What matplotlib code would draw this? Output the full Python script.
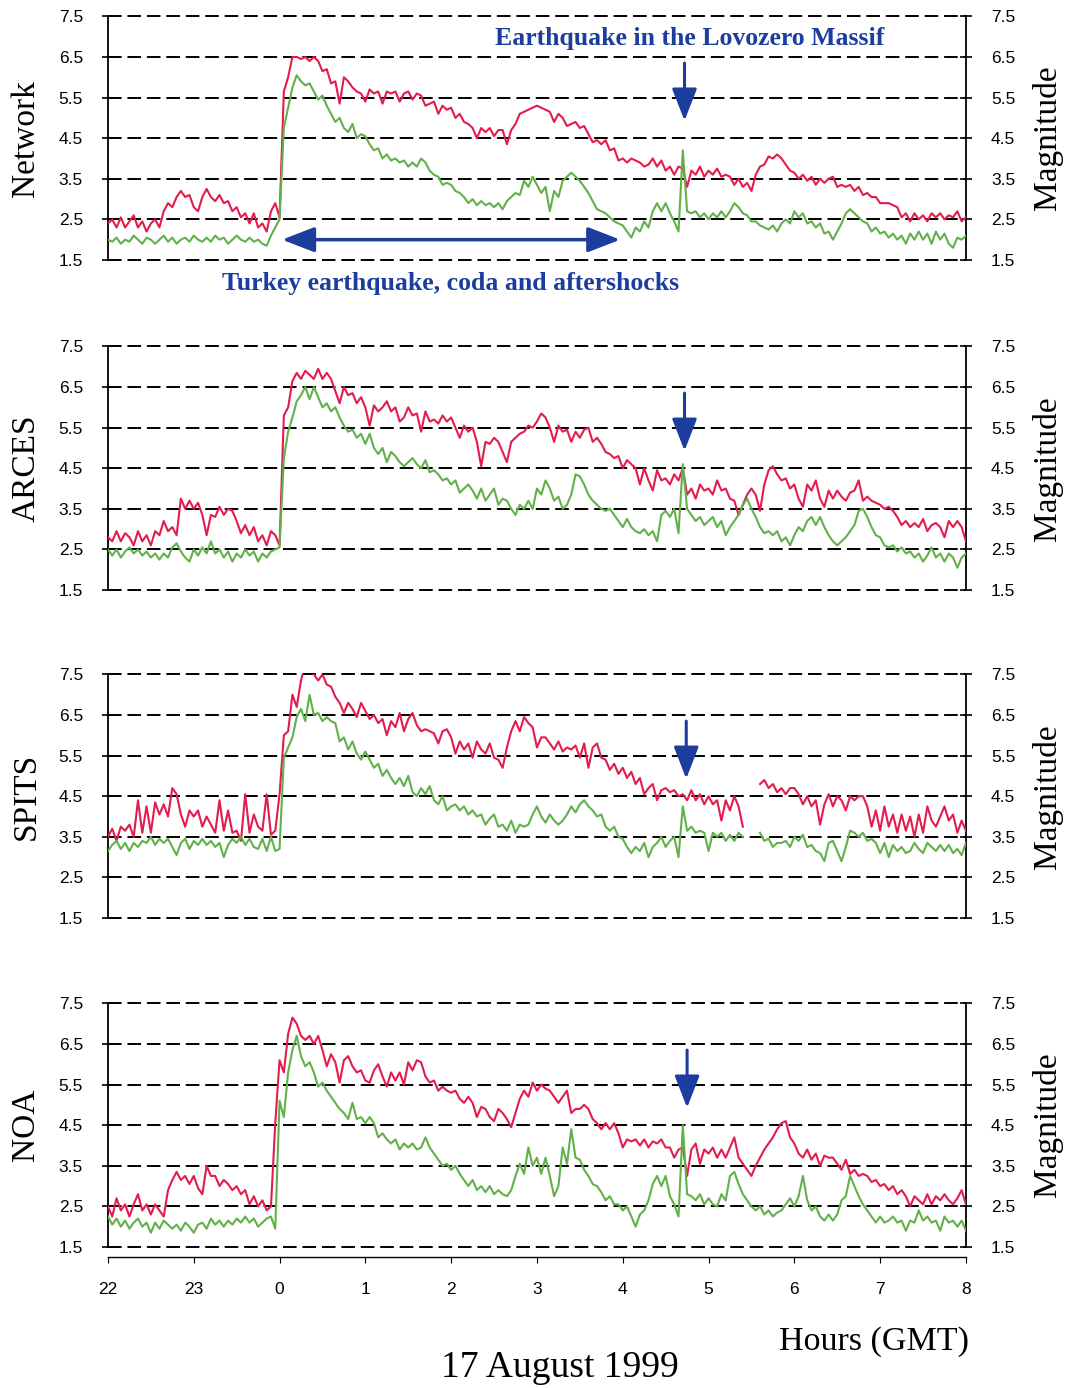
import numpy as np
import matplotlib
matplotlib.use("Agg")
import matplotlib.pyplot as plt

# time axis: hours relative to midnight, 22:00 on 16 Aug -> 08:00 on 17 Aug
hours = np.linspace(-2, 8, 201)
hour_ticks = list(range(-2, 9))
hour_labels = ['22', '23', '0', '1', '2', '3', '4', '5', '6', '7', '8']
mag_ticks = [1.5, 2.5, 3.5, 4.5, 5.5, 6.5, 7.5]

stations = ['Network', 'ARCES', 'SPITS', 'NOA']
nan = np.nan

net_red = [
    2.4, 2.5, 2.3, 2.55, 2.3, 2.45, 2.6, 2.3, 2.45, 2.2,
    2.4, 2.5, 2.3, 2.7, 2.9, 2.8, 3.05, 3.2, 3.05, 3.1,
    2.8, 2.7, 3.05, 3.25, 3.05, 2.95, 3.1, 2.9, 2.95, 2.7,
    2.8, 2.55, 2.65, 2.4, 2.65, 2.3, 2.4, 2.2, 2.7, 2.9,
    2.55, 5.65, 6.0, 6.5, 6.5, 6.45, 6.5, 6.4, 6.5, 6.4,
    6.15, 6.2, 5.85, 5.9, 5.35, 6.0, 5.9, 5.75, 5.65, 5.6,
    5.4, 5.7, 5.6, 5.65, 5.35, 5.65, 5.6, 5.65, 5.4, 5.6,
    5.65, 5.45, 5.6, 5.55, 5.3, 5.35, 5.4, 5.1, 5.3, 5.2,
    5.25, 5.0, 5.1, 4.9, 4.85, 4.75, 4.5, 4.75, 4.65, 4.75,
    4.55, 4.7, 4.7, 4.35, 4.7, 4.85, 5.1, 5.15, 5.2, 5.25,
    5.3, 5.25, 5.2, 5.15, 4.9, 5.1, 5.0, 4.8, 4.85, 4.9,
    4.75, 4.8, 4.6, 4.4, 4.45, 4.35, 4.45, 4.2, 4.25, 3.95,
    4.0, 3.9, 4.0, 3.95, 3.9, 3.8, 3.85, 4.0, 3.8, 3.95,
    3.7, 3.8, 3.6, 3.8, 3.75, 3.3, 3.7, 3.6, 3.8, 3.55,
    3.7, 3.6, 3.75, 3.55, 3.6, 3.55, 3.35, 3.5, 3.3, 3.4,
    3.2, 3.6, 3.8, 3.85, 4.05, 4.0, 4.1, 4.0, 3.85, 3.7,
    3.65, 3.5, 3.6, 3.45, 3.55, 3.35, 3.5, 3.4, 3.5, 3.55,
    3.3, 3.35, 3.3, 3.35, 3.2, 3.3, 3.1, 3.15, 3.05, 3.05,
    2.9, 2.9, 2.9, 2.85, 2.8, 2.55, 2.65, 2.45, 2.65, 2.5,
    2.6, 2.45, 2.65, 2.55, 2.65, 2.5, 2.6, 2.55, 2.7, 2.45,
    2.55]

net_green = [
    2.0, 1.95, 2.05, 1.9, 2.0, 1.95, 2.1, 2.0, 1.9, 2.05,
    2.0, 1.9, 2.0, 2.1, 1.95, 2.05, 1.9, 2.0, 2.05, 1.95,
    2.1, 2.0, 1.95, 2.05, 1.95, 2.1, 2.0, 2.05, 1.9, 2.0,
    2.1, 2.0, 1.95, 2.05, 1.95, 2.0, 1.9, 1.85, 2.1, 2.3,
    2.5, 4.75, 5.25, 5.75, 6.05, 5.9, 5.8, 5.85, 5.65, 5.45,
    5.55, 5.3, 5.1, 4.9, 5.0, 4.75, 4.65, 4.85, 4.5, 4.6,
    4.55, 4.35, 4.2, 4.25, 4.0, 4.1, 3.95, 4.0, 3.9, 3.95,
    3.8, 3.9, 3.8, 4.0, 3.9, 3.7, 3.6, 3.55, 3.35, 3.4,
    3.35, 3.2, 3.15, 3.05, 2.9, 3.0, 2.85, 2.95, 2.85, 2.9,
    2.8, 2.9, 2.75, 2.95, 3.05, 3.15, 3.1, 3.45, 3.3, 3.55,
    3.35, 3.15, 3.3, 2.7, 3.2, 3.05, 3.45, 3.55, 3.65, 3.55,
    3.45, 3.3, 3.15, 2.95, 2.75, 2.7, 2.65, 2.55, 2.45, 2.4,
    2.35, 2.2, 2.05, 2.3, 2.2, 2.45, 2.3, 2.7, 2.9, 2.7,
    2.9, 2.65, 2.45, 2.2, 4.2, 2.7, 2.65, 2.7, 2.55, 2.65,
    2.5, 2.65, 2.55, 2.7, 2.55, 2.7, 2.9, 2.8, 2.65, 2.6,
    2.45, 2.45, 2.35, 2.3, 2.25, 2.35, 2.2, 2.4, 2.5, 2.4,
    2.7, 2.55, 2.65, 2.4, 2.45, 2.3, 2.4, 2.15, 2.2, 2.0,
    2.2, 2.4, 2.65, 2.75, 2.65, 2.55, 2.45, 2.4, 2.2, 2.3,
    2.15, 2.2, 2.05, 2.15, 2.0, 2.1, 1.9, 2.15, 2.0, 2.2,
    2.0, 2.15, 1.9, 2.2, 2.0, 2.15, 1.9, 1.8, 2.05, 2.0,
    2.1]

arces_red = [
    2.8, 2.7, 2.95, 2.7, 2.9, 2.8, 2.6, 2.95, 2.7, 2.85,
    2.6, 2.95, 2.85, 3.2, 2.95, 3.05, 2.85, 3.75, 3.5, 3.7,
    3.5, 3.65, 3.35, 2.85, 3.35, 3.3, 3.55, 3.35, 3.5, 3.45,
    3.2, 2.9, 3.1, 2.85, 3.05, 2.7, 2.85, 2.6, 2.95, 2.85,
    2.6, 5.8, 6.0, 6.65, 6.85, 6.7, 6.9, 6.8, 6.7, 6.95,
    6.7, 6.85, 6.7, 6.4, 6.1, 6.5, 6.3, 6.35, 6.1, 6.25,
    6.0, 5.55, 6.05, 5.9, 6.0, 6.15, 5.9, 6.0, 5.65, 5.75,
    6.0, 5.8, 5.85, 5.4, 5.9, 5.65, 5.7, 5.6, 5.8, 5.65,
    5.75, 5.5, 5.25, 5.55, 5.4, 5.5, 5.15, 4.55, 5.15, 5.1,
    5.25, 5.15, 4.9, 4.65, 5.15, 5.25, 5.35, 5.4, 5.55, 5.5,
    5.65, 5.85, 5.75, 5.5, 5.15, 5.55, 5.4, 5.45, 5.15, 5.4,
    5.25, 5.45, 5.5, 5.15, 5.25, 5.1, 4.9, 4.85, 4.75, 4.8,
    4.5, 4.7, 4.6, 4.5, 4.1, 4.5, 4.2, 3.95, 4.45, 4.2,
    4.25, 4.1, 4.35, 4.2, 4.5, 3.85, 4.0, 3.75, 4.1, 3.95,
    4.0, 3.85, 4.2, 3.95, 4.0, 3.75, 3.7, 3.35, 3.6, 3.85,
    4.0, 3.85, 3.45, 4.1, 4.45, 4.55, 4.35, 4.2, 4.25, 4.0,
    4.1, 3.75, 3.55, 4.1, 3.95, 4.2, 3.75, 3.55, 3.95, 3.75,
    3.95, 3.8, 3.7, 3.9, 3.95, 4.2, 3.7, 3.8, 3.7, 3.65,
    3.6, 3.5, 3.55, 3.45, 3.3, 3.1, 3.2, 3.05, 3.15, 3.05,
    3.25, 2.95, 3.1, 3.15, 3.05, 2.8, 3.2, 3.05, 3.2, 3.05,
    2.7]

arces_green = [
    2.5, 2.35, 2.5, 2.3, 2.45, 2.55, 2.4, 2.5, 2.35, 2.45,
    2.3, 2.4, 2.25, 2.4, 2.3, 2.55, 2.65, 2.45, 2.3, 2.2,
    2.5, 2.35, 2.55, 2.4, 2.7, 2.4, 2.5, 2.3, 2.45, 2.2,
    2.4, 2.3, 2.5, 2.35, 2.45, 2.2, 2.4, 2.3, 2.45, 2.5,
    2.55, 4.75, 5.4, 5.75, 6.15, 6.3, 6.5, 6.2, 6.5, 6.25,
    6.0, 6.1, 5.9, 6.0, 5.75, 5.55, 5.4, 5.45, 5.25, 5.35,
    5.1, 5.35, 5.0, 4.85, 5.0, 4.65, 4.9, 4.8, 4.65, 4.55,
    4.65, 4.75, 4.6, 4.5, 4.7, 4.4, 4.45, 4.35, 4.2, 4.25,
    4.1, 4.2, 3.9, 4.0, 4.1, 3.95, 3.75, 4.0, 3.7, 3.85,
    4.0, 3.6, 3.75, 3.7, 3.5, 3.35, 3.6, 3.5, 3.7, 3.5,
    4.0, 3.85, 4.2, 4.0, 3.7, 3.8, 3.5, 3.6, 3.85, 4.35,
    4.3, 4.1, 3.85, 3.7, 3.6, 3.5, 3.45, 3.5, 3.35, 3.2,
    3.05, 3.25, 3.05, 2.95, 2.9, 3.0, 2.85, 2.95, 2.7, 3.35,
    3.45, 3.3, 3.5, 2.9, 4.6, 3.5, 3.35, 3.2, 3.3, 3.1,
    3.2, 3.3, 3.05, 3.2, 2.85, 3.05, 3.2, 3.35, 3.6, 3.75,
    3.5, 3.3, 3.05, 2.9, 2.95, 2.85, 2.95, 2.7, 2.8, 2.6,
    2.85, 3.05, 2.95, 3.2, 3.3, 3.1, 3.3, 3.05, 2.85, 2.7,
    2.6, 2.7, 2.8, 2.95, 3.1, 3.45, 3.5, 3.3, 3.05, 2.85,
    2.8, 2.6, 2.55, 2.6, 2.45, 2.55, 2.4, 2.45, 2.3, 2.4,
    2.2, 2.35, 2.55, 2.3, 2.4, 2.2, 2.4, 2.3, 2.05, 2.3,
    2.4]

spits_red = [
    3.5, 3.7, 3.4, 3.75, 3.65, 3.8, 3.5, 4.4, 3.6, 4.25,
    3.6, 4.35, 4.05, 4.3, 4.0, 4.7, 4.55, 4.05, 3.75, 4.15,
    4.0, 4.15, 3.75, 4.0, 3.8, 3.6, 4.4, 3.65, 4.15, 3.6,
    3.65, 3.4, 4.55, 3.6, 4.05, 3.75, 3.65, 4.55, 3.55, 3.65,
    4.55, 6.0, 6.1, 7.0, 6.7, 7.35, 7.75, 7.6, 7.5, 7.35,
    7.5, 7.25, 7.2, 6.95, 6.8, 6.55, 6.8, 6.65, 6.45, 6.8,
    6.6, 6.4, 6.5, 6.3, 6.4, 6.0, 6.35, 6.2, 6.55, 6.1,
    6.4, 6.55, 6.25, 6.1, 6.15, 6.1, 6.05, 5.8, 6.1, 6.15,
    5.95, 5.55, 5.85, 5.65, 5.8, 5.45, 5.85, 5.65, 5.55, 5.8,
    5.45, 5.4, 5.2, 5.7, 6.1, 6.35, 6.1, 6.45, 6.3, 6.2,
    5.7, 5.95, 5.95, 5.8, 5.65, 5.85, 5.6, 5.7, 5.65, 5.75,
    5.45, 5.8, 5.2, 5.7, 5.8, 5.45, 5.4, 5.15, 5.3, 5.05,
    5.2, 4.95, 5.1, 4.8, 4.95, 4.55, 4.7, 4.8, 4.4, 4.65,
    4.7, 4.6, 4.65, 4.5, 4.55, 4.4, 4.65, 4.4, 4.55, 4.3,
    4.5, 4.3, 4.4, 3.9, 4.4, 4.15, 4.5, 4.25, 3.75, nan,
    nan, nan, 4.8, 4.9, 4.7, 4.8, 4.6, 4.7, 4.55, 4.7,
    4.7, 4.55, 4.3, 4.5, 4.25, 4.4, 3.8, 4.3, 4.55, 4.25,
    4.5, 4.4, 4.15, 4.5, 4.4, 4.5, 4.5, 4.25, 3.75, 4.15,
    3.65, 4.25, 3.75, 4.05, 3.6, 4.05, 3.65, 4.0, 3.5, 4.05,
    3.6, 4.25, 3.9, 3.75, 4.0, 4.25, 3.9, 4.05, 3.6, 3.9,
    3.65]

spits_green = [
    3.15, 3.3, 3.4, 3.2, 3.35, 3.15, 3.35, 3.25, 3.4, 3.35,
    3.5, 3.3, 3.45, 3.35, 3.45, 3.25, 3.05, 3.35, 3.45, 3.2,
    3.4, 3.3, 3.45, 3.3, 3.4, 3.25, 3.35, 3.0, 3.3, 3.45,
    3.35, 3.5, 3.3, 3.45, 3.25, 3.2, 3.45, 3.15, 3.5, 3.15,
    3.2, 5.45, 5.7, 5.95, 6.45, 6.65, 6.35, 7.0, 6.5, 6.55,
    6.35, 6.45, 6.35, 6.3, 5.85, 5.95, 5.65, 5.85, 5.55, 5.4,
    5.6, 5.4, 5.2, 5.3, 5.0, 5.15, 4.95, 4.8, 4.95, 4.75,
    5.0, 4.6, 4.5, 4.7, 4.55, 4.75, 4.4, 4.3, 4.5, 4.15,
    4.25, 4.3, 4.15, 4.25, 4.05, 4.15, 4.0, 4.05, 3.8, 3.95,
    4.05, 3.75, 3.8, 3.65, 3.9, 3.6, 3.8, 3.75, 3.8, 4.05,
    4.25, 4.0, 3.85, 4.05, 3.9, 3.8, 3.9, 4.05, 4.25, 4.1,
    4.3, 4.4, 4.25, 4.15, 4.0, 4.05, 3.75, 3.65, 3.75, 3.5,
    3.45, 3.25, 3.1, 3.25, 3.15, 3.35, 3.0, 3.25, 3.35, 3.5,
    3.25, 3.4, 3.5, 3.0, 4.25, 3.65, 3.75, 3.6, 3.65, 3.6,
    3.15, 3.6, 3.5, 3.6, 3.4, 3.55, 3.4, 3.6, 3.5, nan,
    nan, nan, 3.6, 3.4, 3.45, 3.25, 3.35, 3.35, 3.4, 3.25,
    3.5, 3.4, 3.55, 3.25, 3.3, 3.15, 3.1, 2.9, 3.35, 3.4,
    3.15, 2.9, 3.25, 3.65, 3.6, 3.5, 3.6, 3.4, 3.45, 3.35,
    3.1, 3.35, 3.0, 3.3, 3.15, 3.25, 3.1, 3.15, 3.35, 3.2,
    3.1, 3.35, 3.25, 3.15, 3.3, 3.15, 3.3, 3.1, 3.2, 3.05,
    3.35]

noa_red = [
    2.5, 2.25, 2.7, 2.4, 2.55, 2.25, 2.55, 2.8, 2.4, 2.55,
    2.3, 2.55, 2.4, 2.25, 2.9, 3.15, 3.35, 3.15, 3.25, 3.05,
    3.25, 2.95, 2.8, 3.5, 3.25, 3.25, 3.0, 3.15, 3.05, 2.9,
    3.0, 2.8, 2.9, 2.55, 2.75, 2.5, 2.65, 2.4, 2.5, 4.55,
    6.1, 5.8, 6.75, 7.15, 7.0, 6.7, 6.6, 6.7, 6.5, 6.7,
    6.35, 5.95, 6.25, 6.05, 5.55, 6.1, 6.2, 5.95, 5.8, 5.85,
    5.6, 5.55, 5.85, 6.0, 5.7, 5.45, 5.8, 5.6, 5.8, 5.5,
    6.05, 5.85, 6.1, 6.05, 5.7, 5.55, 5.6, 5.35, 5.45, 5.35,
    5.3, 5.35, 5.15, 5.05, 5.2, 5.05, 4.7, 4.95, 4.9, 4.7,
    4.6, 4.9, 4.8, 4.65, 4.45, 4.8, 5.15, 5.35, 5.2, 5.55,
    5.35, 5.5, 5.4, 5.35, 5.2, 5.05, 5.2, 5.35, 4.8, 4.9,
    4.9, 5.0, 4.9, 4.65, 4.55, 4.4, 4.55, 4.4, 4.55, 4.3,
    3.95, 4.15, 4.1, 4.15, 4.0, 4.15, 3.95, 4.1, 4.05, 4.15,
    3.95, 3.95, 3.7, 3.9, 3.95, 3.25, 3.9, 4.05, 3.55, 3.9,
    3.8, 3.95, 3.7, 3.9, 3.7, 3.95, 4.2, 3.7, 3.55, 3.4,
    3.25, 3.5, 3.7, 3.9, 4.05, 4.2, 4.4, 4.55, 4.6, 4.2,
    4.05, 3.8, 3.7, 3.9, 3.65, 3.8, 3.5, 3.75, 3.7, 3.7,
    3.55, 3.4, 3.65, 3.3, 3.4, 3.25, 3.3, 3.25, 3.1, 3.15,
    3.0, 3.05, 2.9, 3.0, 2.8, 2.9, 2.75, 2.5, 2.75, 2.65,
    2.55, 2.8, 2.55, 2.75, 2.65, 2.8, 2.65, 2.55, 2.7, 2.9,
    2.55]

noa_green = [
    2.25, 2.05, 2.2, 2.0, 2.15, 1.95, 2.1, 2.2, 2.0, 2.1,
    1.85, 2.1, 1.95, 2.15, 2.05, 1.95, 2.05, 1.9, 2.1, 2.0,
    1.85, 2.05, 2.1, 1.95, 2.2, 2.05, 2.15, 2.0, 2.15, 2.05,
    2.2, 2.1, 2.25, 2.1, 2.2, 2.0, 2.1, 2.2, 2.25, 1.95,
    5.1, 4.7, 5.8, 6.35, 6.7, 6.2, 5.95, 6.05, 5.8, 5.45,
    5.55, 5.35, 5.2, 5.05, 4.9, 4.8, 4.65, 5.05, 4.65, 4.7,
    4.55, 4.7, 4.55, 4.2, 4.3, 4.15, 4.05, 4.15, 3.9, 4.05,
    3.95, 4.05, 3.9, 3.95, 4.2, 3.95, 3.8, 3.65, 3.5, 3.55,
    3.4, 3.5, 3.3, 3.15, 3.0, 3.15, 2.9, 3.0, 2.85, 3.0,
    2.8, 2.9, 2.8, 2.75, 2.9, 3.25, 3.55, 3.3, 3.95, 3.5,
    3.7, 3.3, 3.7, 3.25, 2.75, 3.0, 3.95, 3.55, 4.4, 3.7,
    3.65, 3.4, 3.25, 3.05, 3.0, 2.85, 2.65, 2.75, 2.55, 2.55,
    2.4, 2.5, 2.25, 2.0, 2.3, 2.4, 2.65, 3.05, 3.25, 3.0,
    3.25, 2.75, 2.55, 2.25, 4.5, 2.8, 2.75, 2.65, 2.8, 2.55,
    2.7, 2.55, 2.5, 2.8, 2.65, 3.25, 3.35, 3.05, 2.8, 2.65,
    2.5, 2.4, 2.5, 2.3, 2.4, 2.25, 2.35, 2.4, 2.55, 2.7,
    2.5, 2.75, 3.25, 2.65, 2.4, 2.5, 2.25, 2.15, 2.3, 2.15,
    2.3, 2.65, 2.75, 3.25, 3.0, 2.75, 2.55, 2.4, 2.25, 2.1,
    2.25, 2.1, 2.15, 2.25, 2.1, 2.15, 1.9, 2.15, 2.1, 2.4,
    2.15, 2.25, 2.1, 2.15, 1.9, 2.25, 2.1, 2.15, 2.0, 2.15,
    1.9]

red_series = [net_red, arces_red, spits_red, noa_red]
green_series = [net_green, arces_green, spits_green, noa_green]

# Lovozero event marker (hour of the arrow in each panel)
arrow_hours = [4.72, 4.72, 4.74, 4.75]

RED = '#e31c4d'
GREEN = '#62b04a'
BLUE = '#1c3c9e'
SERIF = 'Liberation Serif'
SANS = 'Liberation Sans'

fig = plt.figure(figsize=(10.71, 13.88), dpi=100)
left, width, height = 0.1008, 0.8011, 0.1755
bottoms = [0.8127, 0.5749, 0.3386, 0.1016]

axes = []
for i, name in enumerate(stations):
    ax = fig.add_axes([left, bottoms[i], width, height])
    axes.append(ax)
    ax.set_xlim(-2, 8)
    ax.set_ylim(1.5, 7.5)

    for m in mag_ticks:
        ax.axhline(m, color='black', lw=1.4, ls=(0, (7, 3)), clip_on=False, zorder=1)

    ax.plot(hours, red_series[i], color=RED, lw=1.5, zorder=3)
    ax.plot(hours, green_series[i], color=GREEN, lw=1.5, zorder=4)

    ax.spines['top'].set_visible(False)
    ax.spines['left'].set_linewidth(1.3)
    ax.spines['right'].set_linewidth(1.3)
    ax.set_yticks(mag_ticks)
    ax.set_yticklabels([f'{m:.1f}' for m in mag_ticks])
    ax.tick_params(axis='y', direction='inout', length=8, width=1.2,
                   left=True, right=True, labelleft=True, labelright=True,
                   labelsize=12.5, pad=14)
    for lab in ax.get_yticklabels():
        lab.set_fontfamily(SANS)

    if i < 3:
        ax.spines['bottom'].set_visible(False)
        ax.tick_params(axis='x', bottom=False, labelbottom=False)
    else:
        ax.spines['bottom'].set_position(('outward', 7))
        ax.spines['bottom'].set_linewidth(1.0)
        ax.set_xticks(hour_ticks)
        ax.set_xticklabels(hour_labels)
        ax.tick_params(axis='x', direction='out', length=4, labelsize=12.5, pad=14)
        for lab in ax.get_xticklabels():
            lab.set_fontfamily(SANS)

    # down arrow at the Lovozero earthquake
    ax.annotate('', xy=(arrow_hours[i], 4.93), xytext=(arrow_hours[i], 6.35),
                arrowprops=dict(arrowstyle='-|>,head_length=0.9,head_width=0.35',
                                color=BLUE, lw=2.2, mutation_scale=22,
                                shrinkA=0, shrinkB=0), zorder=6)

    ymid = bottoms[i] + height / 2
    fig.text(0.0243, ymid, name, rotation=90, ha='center', va='center',
             fontsize=24, family=SERIF)
    fig.text(0.9785, ymid, 'Magnitude', rotation=90, ha='center', va='center',
             fontsize=24, family=SERIF)

ax1 = axes[0]
ax1.text(4.78, 6.96, 'Earthquake in the Lovozero Massif', ha='center', va='center',
         color=BLUE, fontsize=18.5, fontweight='bold', family=SERIF, zorder=7)
ax1.annotate('', xy=(0.03, 2.0), xytext=(3.97, 2.0),
             arrowprops=dict(arrowstyle='<|-|>,head_length=0.9,head_width=0.35',
                             color=BLUE, lw=2.5, mutation_scale=22,
                             shrinkA=0, shrinkB=0), zorder=6)
ax1.text(1.99, 0.93, 'Turkey earthquake, coda and aftershocks', ha='center', va='center',
         color=BLUE, fontsize=18.5, fontweight='bold', family=SERIF, clip_on=False)

fig.text(0.816, 0.0331, 'Hours (GMT)', ha='center', va='center', fontsize=24.5, family=SERIF)
fig.text(0.523, 0.0148, '17 August 1999', ha='center', va='center', fontsize=27, family=SERIF)

fig.savefig('out.png', dpi=100)
